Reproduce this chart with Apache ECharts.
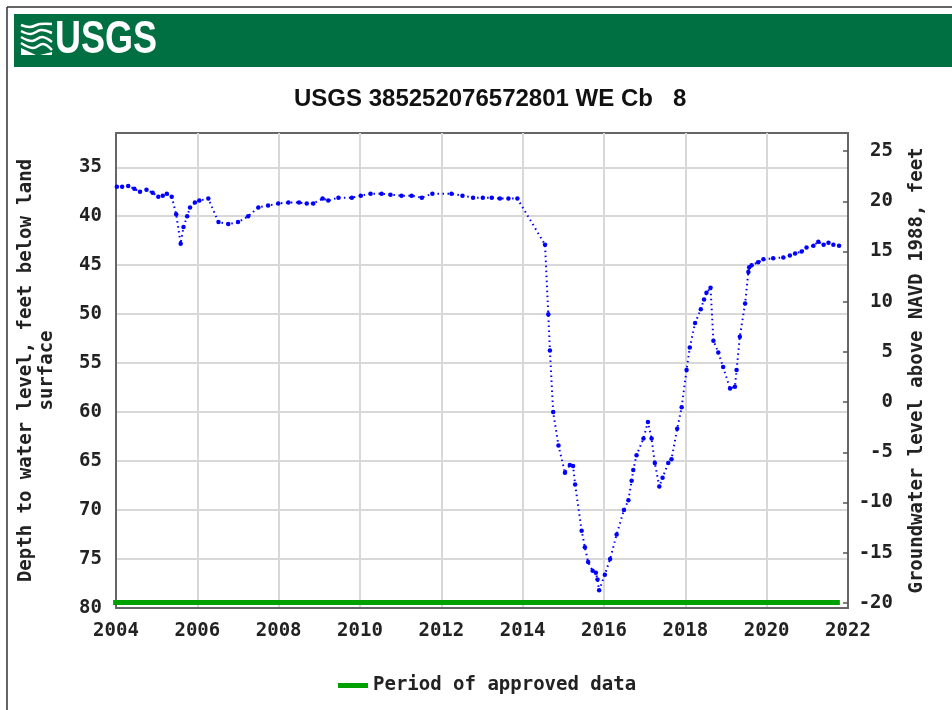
<!DOCTYPE html>
<html>
<head>
<meta charset="utf-8">
<title>USGS 385252076572801 WE Cb 8</title>
<script src="https://cdn.jsdelivr.net/npm/echarts@6/dist/echarts.min.js"></script>
<style>
  html, body { margin: 0; padding: 0; background: #fff; }
  #main { width: 952px; height: 710px; }
</style>
</head>
<body>
<div id="main"></div>
<script>
// measured water levels (decimal year, feet below land surface)
var years = [2004.02, 2004.15, 2004.3, 2004.45, 2004.59, 2004.75, 2004.9, 2005.04, 2005.15, 2005.25,
  2005.37, 2005.48, 2005.59, 2005.66, 2005.75, 2005.82, 2005.94, 2006.05, 2006.27, 2006.52,
  2006.76, 2007.0, 2007.25, 2007.5, 2007.74, 2007.99, 2008.24, 2008.5, 2008.69, 2008.85,
  2009.08, 2009.22, 2009.47, 2009.8, 2010.02, 2010.26, 2010.53, 2010.75, 2011.02, 2011.27,
  2011.52, 2011.78, 2012.25, 2012.52, 2012.78, 2013.02, 2013.24, 2013.44, 2013.65, 2013.87,
  2014.55, 2014.63, 2014.67, 2014.75, 2014.88, 2015.04, 2015.16, 2015.24, 2015.29, 2015.45,
  2015.53, 2015.61, 2015.72, 2015.8, 2015.84, 2015.88, 2016.02, 2016.15, 2016.31, 2016.49,
  2016.6, 2016.68, 2016.72, 2016.8, 2016.97, 2017.08, 2017.17, 2017.25, 2017.36, 2017.44,
  2017.58, 2017.66, 2017.8, 2017.91, 2018.03, 2018.11, 2018.24, 2018.38, 2018.46, 2018.52,
  2018.62, 2018.69, 2018.81, 2018.93, 2019.1, 2019.22, 2019.26, 2019.34, 2019.47, 2019.55,
  2019.57, 2019.63, 2019.79, 2019.92, 2020.16, 2020.41, 2020.57, 2020.7, 2020.86, 2020.98,
  2021.15, 2021.27, 2021.4, 2021.52, 2021.64, 2021.78];
var depths = [37.0, 37.0, 36.9, 37.2, 37.5, 37.3, 37.6, 38.0, 37.9, 37.7,
  38.0, 39.8, 42.8, 41.1, 40.0, 39.1, 38.6, 38.4, 38.2, 40.6,
  40.8, 40.6, 40.0, 39.1, 38.9, 38.7, 38.6, 38.6, 38.7, 38.7,
  38.2, 38.4, 38.1, 38.1, 37.9, 37.7, 37.7, 37.8, 37.9, 37.9,
  38.1, 37.7, 37.7, 37.9, 38.1, 38.1, 38.1, 38.2, 38.2, 38.2,
  42.9, 50.0, 53.7, 60.0, 63.4, 66.2, 65.4, 65.5, 67.4, 72.1,
  73.8, 75.3, 76.2, 76.4, 77.1, 78.2, 76.6, 75.0, 72.5, 70.0,
  69.0, 67.0, 65.9, 64.4, 62.7, 61.0, 62.7, 65.2, 67.6, 66.7,
  65.2, 64.8, 61.7, 59.5, 55.7, 53.4, 50.9, 49.5, 48.5, 47.8,
  47.3, 52.7, 53.9, 55.4, 57.6, 57.4, 55.7, 52.3, 48.9, 45.7,
  45.2, 45.0, 44.7, 44.4, 44.3, 44.2, 44.0, 43.8, 43.6, 43.2,
  43.0, 42.6, 42.9, 42.7, 42.9, 43.0];

// period of approved data
var approvedStart = 2003.93;
var approvedEnd = 2021.8;

var depthTicks = [35, 40, 45, 50, 55, 60, 65, 70, 75, 80];
var elevTicks = [-20, -15, -10, -5, 0, 5, 10, 15, 20, 25];

var mono = 'DejaVu Sans Mono';
var levelData = [];
for (var i = 0; i < years.length; i++) {
  levelData.push([years[i], depths[i]]);
}

var chart = echarts.init(document.getElementById('main'));

var option = {
  animation: false,
  backgroundColor: '#fff',
  title: {
    text: 'USGS 385252076572801 WE Cb   8',
    left: 289,
    top: 82,
    textStyle: {
      fontFamily: 'Liberation Sans',
      fontSize: 24,
      fontWeight: 'bold',
      color: '#111'
    }
  },
  graphic: [
    { type: 'line', shape: { x1: 7, y1: 7, x2: 952, y2: 7 }, style: { stroke: '#333', lineWidth: 1.5 } },
    { type: 'line', shape: { x1: 7, y1: 7, x2: 7, y2: 710 }, style: { stroke: '#333', lineWidth: 1.5 } },
    { type: 'rect', shape: { x: 14, y: 14, width: 938, height: 53 }, style: { fill: '#006f41' } },
    {
      type: 'text', x: 55, y: 40, scaleY: 1.3,
      style: { text: 'USGS', fill: '#fff', fontFamily: 'Liberation Sans', fontSize: 36, fontWeight: 'bold', verticalAlign: 'middle' }
    },
    {
      type: 'group',
      children: [
        { type: 'polyline', shape: { points: [[21, 25], [30, 27], [40, 24], [52, 24]], smooth: 0.4 }, style: { stroke: '#fff', lineWidth: 2.5, fill: null } },
        { type: 'polyline', shape: { points: [[21, 31], [31, 34], [41, 30], [52, 33]], smooth: 0.4 }, style: { stroke: '#fff', lineWidth: 2.5, fill: null } },
        { type: 'polyline', shape: { points: [[21, 37], [32, 41], [42, 37], [52, 42]], smooth: 0.4 }, style: { stroke: '#fff', lineWidth: 2.5, fill: null } },
        { type: 'polyline', shape: { points: [[21, 43], [33, 48], [43, 44], [52, 50]], smooth: 0.4 }, style: { stroke: '#fff', lineWidth: 2.5, fill: null } },
        { type: 'polygon', shape: { points: [[21, 48], [36, 55], [21, 55]] }, style: { fill: '#fff' } },
        { type: 'polygon', shape: { points: [[40, 55], [52, 55], [52, 52]] }, style: { fill: '#fff' } }
      ]
    }
  ],
  grid: {
    left: 116,
    right: 104,
    top: 133,
    bottom: 102,
    show: true,
    borderColor: '#666',
    borderWidth: 2
  },
  legend: {
    left: 333,
    top: 671,
    data: ['Period of approved data'],
    icon: 'rect',
    itemWidth: 30,
    itemHeight: 5,
    itemGap: 8,
    textStyle: { fontFamily: mono, fontSize: 19, fontWeight: 'bold', color: '#222' }
  },
  xAxis: {
    type: 'value',
    min: 2004,
    max: 2022,
    interval: 2,
    axisLine: { show: true, onZero: false, lineStyle: { color: '#666', width: 2 } },
    axisTick: { show: false },
    axisLabel: {
      fontFamily: mono, fontSize: 19, fontWeight: 'bold', color: '#222', margin: 14,
      formatter: function (v) { return String(v); }
    },
    splitLine: { show: true, lineStyle: { color: '#d8d8d8', width: 2 } }
  },
  yAxis: [
    {
      type: 'value',
      inverse: true,
      min: 31.5,
      max: 80,
      position: 'left',
      name: 'Depth to water level, feet below land\nsurface',
      nameLocation: 'middle',
      nameRotate: 90,
      nameGap: 58,
      nameTextStyle: { fontFamily: mono, fontSize: 19, fontWeight: 'bold', color: '#222', lineHeight: 21 },
      axisLine: { show: true, lineStyle: { color: '#666', width: 2 } },
      axisTick: { show: false, customValues: depthTicks },
      axisLabel: { fontFamily: mono, fontSize: 19, fontWeight: 'bold', color: '#222', margin: 14, customValues: depthTicks },
      splitLine: { show: true, lineStyle: { color: '#d8d8d8', width: 2 } }
    },
    {
      type: 'value',
      min: -20.5,
      max: 26.8,
      position: 'right',
      name: 'Groundwater level above NAVD 1988, feet',
      nameLocation: 'middle',
      nameRotate: 90,
      nameGap: 60,
      nameTextStyle: { fontFamily: mono, fontSize: 19, fontWeight: 'bold', color: '#222' },
      axisLine: { show: true, lineStyle: { color: '#666', width: 2 } },
      axisTick: { show: true, inside: true, length: 5, customValues: elevTicks, lineStyle: { color: '#555', width: 1.5 } },
      axisLabel: { fontFamily: mono, fontSize: 19, fontWeight: 'bold', color: '#222', margin: 45, align: 'right', customValues: elevTicks },
      splitLine: { show: false }
    }
  ],
  series: [
    {
      name: 'Period of approved data',
      type: 'line',
      yAxisIndex: 0,
      data: [[approvedStart, 79.45], [approvedEnd, 79.45]],
      symbol: 'none',
      clip: false,
      lineStyle: { color: '#00a000', width: 5 },
      itemStyle: { color: '#00a000' },
      z: 3
    },
    {
      name: 'Water level',
      type: 'line',
      yAxisIndex: 0,
      data: levelData,
      symbol: 'circle',
      symbolSize: 4.5,
      showAllSymbol: true,
      lineStyle: { color: '#0000ff', width: 2, type: [1.5, 3.5] },
      itemStyle: { color: '#0000ff' },
      z: 4
    }
  ]
};

chart.setOption(option);
</script>
</body>
</html>
